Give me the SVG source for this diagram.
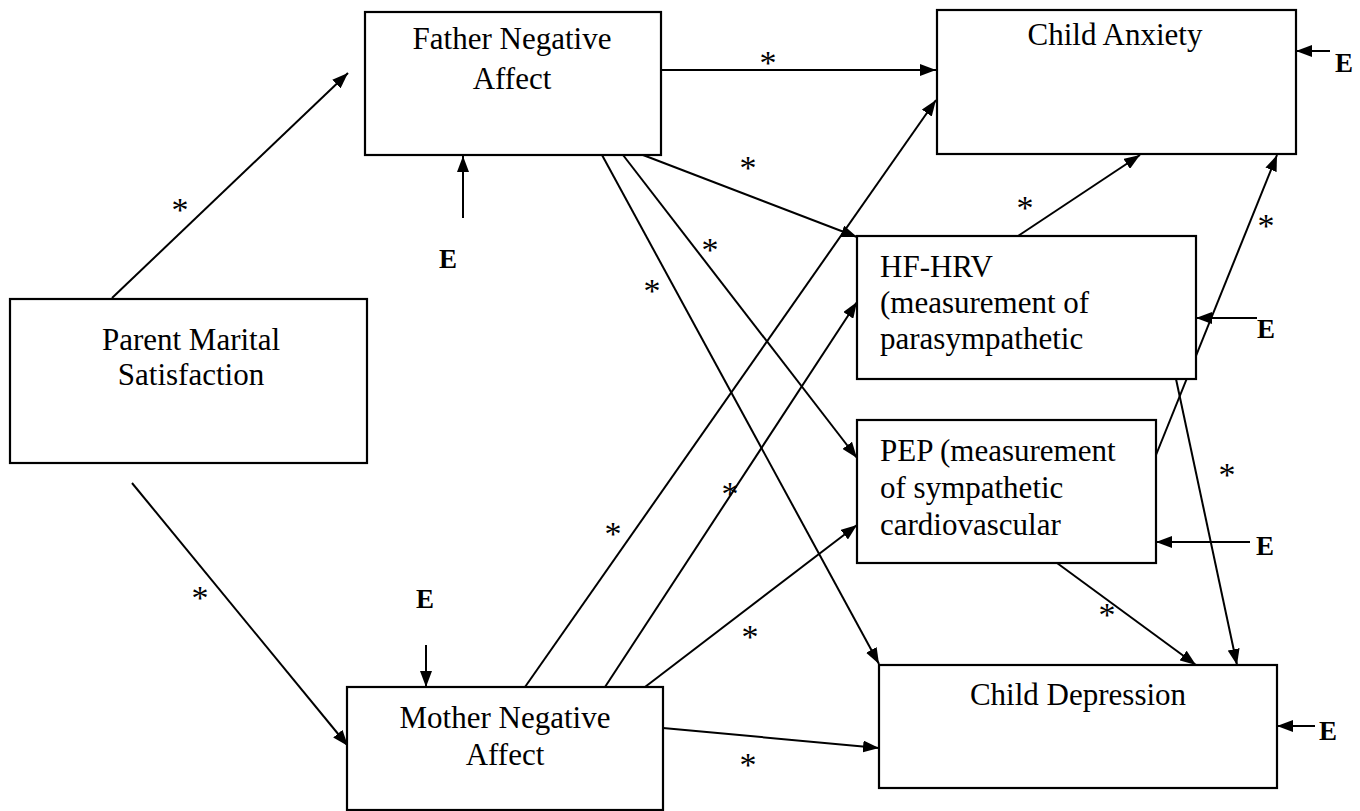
<svg xmlns="http://www.w3.org/2000/svg" width="1360" height="811" viewBox="0 0 1360 811">
<style>
.box{fill:#fff;stroke:#000;stroke-width:2.2}
.t{font-family:"Liberation Serif","Times New Roman",serif;font-size:31px;fill:#000}
.c{text-anchor:middle}
.e{font-family:"Liberation Serif","Times New Roman",serif;font-size:27px;font-weight:bold;fill:#000;text-anchor:middle}
.s{font-family:"Liberation Serif","Times New Roman",serif;font-size:34px;fill:#000;text-anchor:middle}
.ln{stroke:#000;stroke-width:2;fill:none;marker-end:url(#ah)}
</style>
<defs>
<marker id="ah" markerWidth="16" markerHeight="12" refX="16" refY="6" orient="auto" markerUnits="userSpaceOnUse">
<path d="M0,0 L16,6 L0,12 z" fill="#000"/>
</marker>
</defs>
<rect width="1360" height="811" fill="#fff"/>

<g id="connectors">
<line class="ln" x1="112" y1="298" x2="348" y2="73"/>
<line class="ln" x1="132" y1="483" x2="348" y2="746"/>
<line class="ln" x1="661" y1="70" x2="936" y2="70"/>
<line class="ln" x1="643" y1="155" x2="857" y2="237"/>
<line class="ln" x1="623" y1="155" x2="857" y2="458"/>
<line class="ln" x1="602" y1="155" x2="879" y2="664"/>
<line class="ln" x1="463" y1="218" x2="463" y2="156"/>
<line class="ln" x1="525" y1="687" x2="936" y2="100"/>
<line class="ln" x1="605" y1="687" x2="857" y2="302"/>
<line class="ln" x1="645" y1="687" x2="857" y2="525"/>
<line class="ln" x1="663" y1="728" x2="879" y2="748"/>
<line class="ln" x1="426" y1="645" x2="426" y2="687"/>
<line class="ln" x1="1018" y1="236" x2="1140" y2="155"/>
<line class="ln" x1="1156" y1="455" x2="1277" y2="155"/>
<line class="ln" x1="1176" y1="379" x2="1237" y2="665"/>
<line class="ln" x1="1057" y1="563" x2="1196" y2="665"/>
<line class="ln" x1="1330" y1="51" x2="1296" y2="51"/>
<line class="ln" x1="1257" y1="318" x2="1196" y2="318"/>
<line class="ln" x1="1250" y1="542" x2="1156" y2="542"/>
<line class="ln" x1="1315" y1="726" x2="1277" y2="726"/>
</g>

<g id="labels">
<text class="s" x="180" y="221">*</text>
<text class="s" x="200" y="609">*</text>
<text class="s" x="768" y="74">*</text>
<text class="s" x="748" y="179">*</text>
<text class="s" x="710" y="261">*</text>
<text class="s" x="652" y="302">*</text>
<text class="s" x="613" y="545">*</text>
<text class="s" x="730" y="505">*</text>
<text class="s" x="750" y="648">*</text>
<text class="s" x="748" y="776">*</text>
<text class="s" x="1025" y="219">*</text>
<text class="s" x="1266" y="237">*</text>
<text class="s" x="1227" y="486">*</text>
<text class="s" x="1107" y="626">*</text>
<text class="e" x="448" y="268">E</text>
<text class="e" x="425" y="608">E</text>
<text class="e" x="1344" y="72">E</text>
<text class="e" x="1266" y="338">E</text>
<text class="e" x="1265" y="555">E</text>
<text class="e" x="1328" y="740">E</text>
</g>

<g id="father">
<rect class="box" x="365" y="12" width="296" height="143"/>
<text class="t c" x="512" y="49">Father Negative</text>
<text class="t c" x="512" y="89">Affect</text>
</g>
<g id="anxiety">
<rect class="box" x="937" y="10" width="359" height="144"/>
<text class="t c" x="1115" y="45">Child Anxiety</text>
</g>
<g id="pms">
<rect class="box" x="10" y="299" width="357" height="164"/>
<text class="t c" x="191" y="350">Parent Marital</text>
<text class="t c" x="191" y="385">Satisfaction</text>
</g>
<g id="hfhrv">
<rect class="box" x="857" y="236" width="339" height="143"/>
<text class="t" x="880" y="277">HF-HRV</text>
<text class="t" x="880" y="313">(measurement of</text>
<text class="t" x="880" y="349">parasympathetic</text>
</g>
<g id="pep">
<rect class="box" x="857" y="420" width="299" height="143"/>
<text class="t" x="880" y="461">PEP (measurement</text>
<text class="t" x="880" y="498">of sympathetic</text>
<text class="t" x="880" y="535">cardiovascular</text>
</g>
<g id="mother">
<rect class="box" x="347" y="687" width="316" height="123"/>
<text class="t c" x="505" y="728">Mother Negative</text>
<text class="t c" x="505" y="765">Affect</text>
</g>
<g id="depression">
<rect class="box" x="879" y="665" width="398" height="123"/>
<text class="t c" x="1078" y="705">Child Depression</text>
</g>
</svg>
